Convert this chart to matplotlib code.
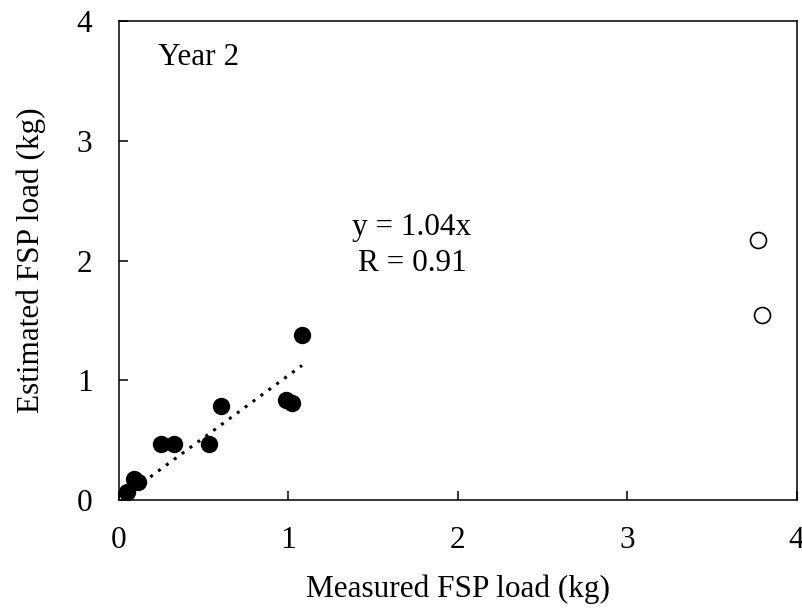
import matplotlib.pyplot as plt

plt.rcParams['font.family'] = ['Liberation Serif', 'DejaVu Serif']

# Year 2 data
meas_in = [0.046, 0.091, 0.115, 0.25, 0.325, 0.535, 0.60, 0.986, 1.022, 1.081]
est_in = [0.064, 0.175, 0.148, 0.467, 0.467, 0.467, 0.786, 0.833, 0.81, 1.378]
meas_out = [3.773, 3.795]
est_out = [2.17, 1.55]
slope = 1.04
r_value = 0.91

fig = plt.figure(figsize=(8.03, 6.09), dpi=100)
ax = fig.add_axes([0.148, 0.179, 0.844, 0.786])

# trend line through origin over the filled points
x0, x1 = min(meas_in), max(meas_in)
ax.plot([x0, x1], [slope * x0, slope * x1], color='black', linestyle=(0, (1, 2.2)), linewidth=2.2, zorder=2)

ax.plot(meas_in, est_in, 'o', color='black', markersize=11.5, zorder=3)
ax.plot(meas_out, est_out, 'o', markerfacecolor='white', markeredgecolor='black',
        markersize=11.5, markeredgewidth=1.2, zorder=3)

ax.set_xlim(0, 4)
ax.set_ylim(0, 4)
ax.set_xticks([0, 1, 2, 3, 4])
ax.set_yticks([0, 1, 2, 3, 4])
ax.tick_params(direction='in', length=6.5, width=1.1, labelsize=22.5, pad=19)
for s in ax.spines.values():
    s.set_linewidth(1.1)

ax.set_xlabel('Measured FSP load (kg)', fontsize=22.5, labelpad=14)
ax.set_ylabel('Estimated FSP load (kg)', fontsize=22.5, labelpad=22)

ax.text(0.23, 3.70, 'Year 2', fontsize=22.5, va='center', ha='left')
ax.text(1.73, 2.28, 'y = %.2fx' % slope, fontsize=22.5, ha='center', va='center')
ax.text(1.73, 1.975, 'R = %.2f' % r_value, fontsize=22.5, ha='center', va='center')

plt.savefig('out.png', dpi=100)
